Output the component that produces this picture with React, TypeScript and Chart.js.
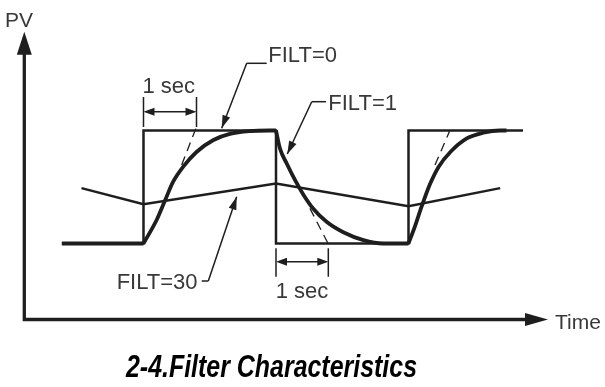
import { useEffect, useRef } from "react";
import { Chart, registerables } from "chart.js";

Chart.register(...registerables);

// Time in seconds (step at t = 0), PV normalised: low level = 0, high level = 1
const filt0T = [-1.54, 0, 0, 2.5, 2.5, 5, 5, 7.16];
const filt0V = [0, 0, 1, 1, 0, 0, 1, 1];

const filt1BaseT = [-1.54, 0];
const filt1BaseV = [0, 0];
const filt1Rise1T = [0, 0.25, 0.41, 0.56, 0.75, 1.0, 1.32, 1.63, 2.0, 2.38, 2.5];
const filt1Rise1V = [0, 0.21, 0.385, 0.547, 0.68, 0.81, 0.916, 0.97, 0.995, 1.0, 1.0];
const filt1FallT = [2.5, 2.575, 2.7, 2.86, 3.02, 3.2, 3.46, 3.77, 4.15, 4.52, 5.0];
const filt1FallV = [1.0, 0.84, 0.71, 0.56, 0.43, 0.31, 0.19, 0.1, 0.03, 0.0, 0.0];
const filt1Rise2T = [5.0, 5.12, 5.25, 5.41, 5.57, 5.79, 6.1, 6.41, 6.73, 6.85];
const filt1Rise2V = [0, 0.15, 0.33, 0.53, 0.68, 0.81, 0.93, 0.98, 1.0, 1.0];

const filt30T = [-1.17, 0, 2.5, 5.0, 6.73];
const filt30V = [0.49, 0.347, 0.53, 0.33, 0.49];

// visible parts of the 1-second tangent guides
const tangent1T = [0.72, 0.99];
const tangent1V = [0.695, 1.02];
const tangent2T = [3.14, 3.487];
const tangent2V = [0.311, -0.004];
const tangent3T = [5.5, 5.78];
const tangent3V = [0.695, 1.0];

const axisLabels = ["PV", "Time"];
const curveLabels = ["FILT=0", "FILT=1", "FILT=30"];
const secLabel = "1 sec";
const titleText = "2-4.Filter Characteristics";

const pts = (t: number[], v: number[]) => t.map((x, i) => ({ x, y: v[i] }));

const LINE = "#1e1e1e";
const TEXT = "#383838";
const FONT = '"Liberation Sans", Arial, Helvetica, sans-serif';

function head(ctx: CanvasRenderingContext2D, fx: number, fy: number, tx: number, ty: number, len: number, hw: number) {
  const a = Math.atan2(ty - fy, tx - fx);
  const bx = tx - len * Math.cos(a);
  const by = ty - len * Math.sin(a);
  ctx.beginPath();
  ctx.moveTo(tx, ty);
  ctx.lineTo(bx + hw * Math.sin(a), by - hw * Math.cos(a));
  ctx.lineTo(bx - hw * Math.sin(a), by + hw * Math.cos(a));
  ctx.closePath();
  ctx.fill();
}

const annotPlugin = {
  id: "annot",
  afterDatasetsDraw(chart: any) {
    const ctx: CanvasRenderingContext2D = chart.ctx;
    const xs = chart.scales.x;
    const ys = chart.scales.y;
    const X = (t: number) => xs.getPixelForValue(t);
    const Y = (v: number) => ys.getPixelForValue(v);
    ctx.save();
    ctx.strokeStyle = LINE;
    ctx.fillStyle = LINE;

    // axes
    const ax = X(-2.249);
    const ay = Y(-0.6726);
    const yTip = Y(1.874);
    const xTip = X(7.632);
    ctx.lineWidth = 3.3;
    ctx.lineCap = "square";
    ctx.beginPath();
    ctx.moveTo(ax, yTip + 20);
    ctx.lineTo(ax, ay);
    ctx.lineTo(xTip - 20, ay);
    ctx.stroke();
    ctx.lineCap = "butt";
    head(ctx, ax, ay, ax, yTip, 23, 7.5);
    head(ctx, ax, ay, xTip, ay, 23, 6.5);

    // text
    ctx.fillStyle = TEXT;
    ctx.textBaseline = "alphabetic";
    ctx.textAlign = "left";
    ctx.font = `21px ${FONT}`;
    ctx.fillText(axisLabels[0], X(-2.613), Y(1.916));
    ctx.fillText(axisLabels[1], X(7.764), Y(-0.7566));

    ctx.font = `22px ${FONT}`;
    ctx.fillText(curveLabels[0], X(2.355), Y(1.604));
    ctx.fillText(curveLabels[1], X(3.487), Y(1.181));
    ctx.fillText(curveLabels[2], X(-0.506), Y(-0.405));
    ctx.textAlign = "center";
    ctx.fillText(secLabel, X(0.475), Y(1.332));
    ctx.fillText(secLabel, X(2.99), Y(-0.485));

    // leaders
    ctx.strokeStyle = LINE;
    ctx.fillStyle = LINE;
    ctx.lineWidth = 1.5;
    const leader = (hx0: number, hx1: number, hv: number, tipT: number, tipV: number, cornerT: number) => {
      ctx.beginPath();
      ctx.moveTo(X(hx1), Y(hv));
      ctx.lineTo(X(hx0), Y(hv));
      ctx.stroke();
      ctx.beginPath();
      ctx.moveTo(X(cornerT), Y(hv));
      ctx.lineTo(X(tipT), Y(tipV));
      ctx.stroke();
      head(ctx, X(cornerT), Y(hv), X(tipT), Y(tipV), 13, 4);
    };
    leader(1.947, 2.325, 1.5947, 1.475, 1.0195, 1.947);
    leader(3.174, 3.443, 1.2549, 2.713, 0.792, 3.174);
    leader(1.098, 1.223, -0.332, 1.758, 0.414, 1.223);

    // 1 sec dimension marks
    const dim = (t0: number, t1: number, vTop: number, vBot: number, vArr: number) => {
      ctx.lineWidth = 1.5;
      ctx.beginPath();
      ctx.moveTo(X(t0), Y(vTop));
      ctx.lineTo(X(t0), Y(vBot));
      ctx.moveTo(X(t1), Y(vTop));
      ctx.lineTo(X(t1), Y(vBot));
      ctx.moveTo(X(t0) + 3, Y(vArr));
      ctx.lineTo(X(t1) - 3, Y(vArr));
      ctx.stroke();
      head(ctx, X(t1), Y(vArr), X(t0), Y(vArr), 11, 4);
      head(ctx, X(t0), Y(vArr), X(t1), Y(vArr), 11, 4);
    };
    dim(0, 1, 1.296, 1.031, 1.166);
    dim(2.5, 3.487, -0.0425, -0.294, -0.161);

    // title (condensed bold italic)
    ctx.fillStyle = "#000000";
    ctx.font = `italic bold 31px ${FONT}`;
    ctx.textAlign = "left";
    const w = ctx.measureText(titleText).width;
    const target = 291;
    const cx = X(2.415);
    ctx.translate(cx - target / 2, Y(-1.184));
    ctx.scale(target / w, 1);
    ctx.fillText(titleText, 0, 0);
    ctx.restore();
  },
};

export default function App() {
  const ref = useRef<HTMLCanvasElement | null>(null);
  useEffect(() => {
    if (!ref.current) return;
    const thin = { borderColor: LINE, borderWidth: 2.5, pointRadius: 0, showLine: true, fill: false, tension: 0 };
    const thick = { borderColor: LINE, borderWidth: 3.8, pointRadius: 0, showLine: true, fill: false, cubicInterpolationMode: "monotone" as const };
    const dashed = { borderColor: LINE, borderWidth: 1.3, borderDash: [9, 6], pointRadius: 0, showLine: true, fill: false };
    const chart = new Chart(ref.current, {
      type: "scatter",
      data: {
        datasets: [
          { label: "FILT=0", data: pts(filt0T, filt0V), ...thin, borderJoinStyle: "miter" as const },
          { label: "FILT=30", data: pts(filt30T, filt30V), ...thin },
          { label: "t1", data: pts(tangent1T, tangent1V), ...dashed },
          { label: "t2", data: pts(tangent2T, tangent2V), ...dashed },
          { label: "t3", data: pts(tangent3T, tangent3V), ...dashed },
          { label: "FILT=1 base", data: pts(filt1BaseT, filt1BaseV), ...thick },
          { label: "FILT=1 rise", data: pts(filt1Rise1T, filt1Rise1V), ...thick },
          { label: "FILT=1 fall", data: pts(filt1FallT, filt1FallV), ...thick },
          { label: "FILT=1 rise 2", data: pts(filt1Rise2T, filt1Rise2V), ...thick },
        ] as any,
      },
      options: {
        animation: false,
        responsive: false,
        maintainAspectRatio: false,
        layout: { padding: 0 },
        plugins: { legend: { display: false }, tooltip: { enabled: false }, title: { display: false } },
        scales: {
          x: { type: "linear", display: false, min: -2.7075, max: 8.7075 },
          y: { type: "linear", display: false, min: -1.2699, max: 2.1549 },
        },
        events: [],
      },
      plugins: [annotPlugin],
    });
    return () => chart.destroy();
  }, []);
  return (
    <div style={{ position: "fixed", left: 0, top: 0, width: 605, height: 387, background: "#ffffff" }}>
      <canvas ref={ref} width={605} height={387} style={{ width: 605, height: 387, display: "block" }} />
    </div>
  );
}
